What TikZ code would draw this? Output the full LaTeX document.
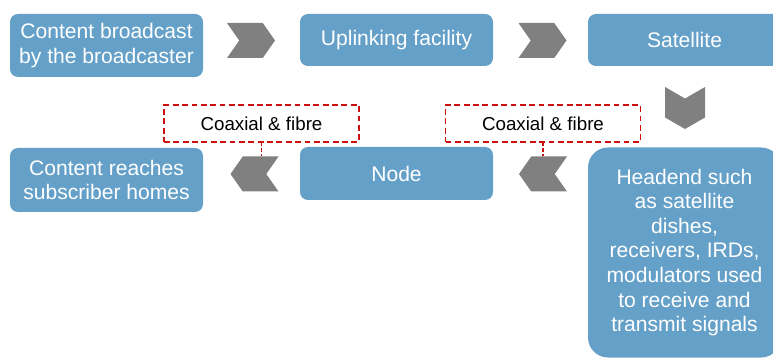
\documentclass[tikz,border=0pt]{standalone}
\usepackage{fontspec}
\setmainfont{Liberation Sans}
\usetikzlibrary{shapes.symbols}

\definecolor{boxblue}{RGB}{100,160,200}
\definecolor{chevgray}{RGB}{128,128,128}
\definecolor{dashred}{RGB}{204,16,16}

\begin{document}
\begin{tikzpicture}[
		stage/.style={fill=boxblue, rounded corners=0.24cm, minimum width=5.79cm, align=center, text=white, inner sep=0pt, font=\fontsize{18}{21}\selectfont},
		chevr/.style={shape=signal, fill=chevgray, signal to=east, signal from=west, signal pointer angle=110, minimum width=1.44cm, minimum height=1.05cm, inner sep=0pt},
		chevl/.style={chevr, signal to=west, signal from=east},
		medium/.style={draw=dashred, dashed, dash pattern=on 5pt off 3pt, line width=1pt, minimum width=5.85cm, minimum height=1.11cm, inner sep=0pt, font=\fontsize{16}{19}\selectfont}
	]
	\useasboundingbox (0,0) rectangle (23.19,10.74);

	\node[stage, minimum height=1.89cm] (source) at (3.195,9.375) {Content broadcast\\by the broadcaster};
	\node[chevr] (a1) at (7.53,9.525) {};
	\node[stage, minimum height=1.56cm] (uplink) at (11.895,9.54) {Uplinking facility};
	\node[chevr] (a2) at (16.275,9.525) {};
	\node[stage, minimum height=1.56cm] (sat) at (20.535,9.54) {Satellite};

	\node[chevr, rotate=-90, signal pointer angle=120, minimum width=1.26cm, minimum height=1.2cm] (a3) at (20.55,7.5) {};

	\node[stage, rounded corners=0.6cm, minimum height=6.3cm] (headend) at (20.535,3.165) {Headend such\\as satellite\\dishes,\\receivers, IRDs,\\modulators used\\to receive and\\transmit signals};
	\node[chevl] (a4) at (16.29,5.52) {};
	\node[stage, minimum height=1.59cm] (hub) at (11.895,5.535) {Node};
	\node[chevl] (a5) at (7.635,5.52) {};
	\node[stage, minimum height=1.92cm] (homes) at (3.195,5.34) {Content reaches\\subscriber homes};

	\node[medium] (cable1) at (7.845,7.035) {Coaxial \& fibre};
	\node[medium] (cable2) at (16.29,7.035) {Coaxial \& fibre};

	\draw[dashred, line width=1pt, dash pattern=on 3pt off 2pt] (cable1.south) -- (cable1.south |- a5.north);
	\draw[dashred, line width=1pt, dash pattern=on 3pt off 2pt] (cable2.south) -- (cable2.south |- a4.north);
\end{tikzpicture}
\end{document}
